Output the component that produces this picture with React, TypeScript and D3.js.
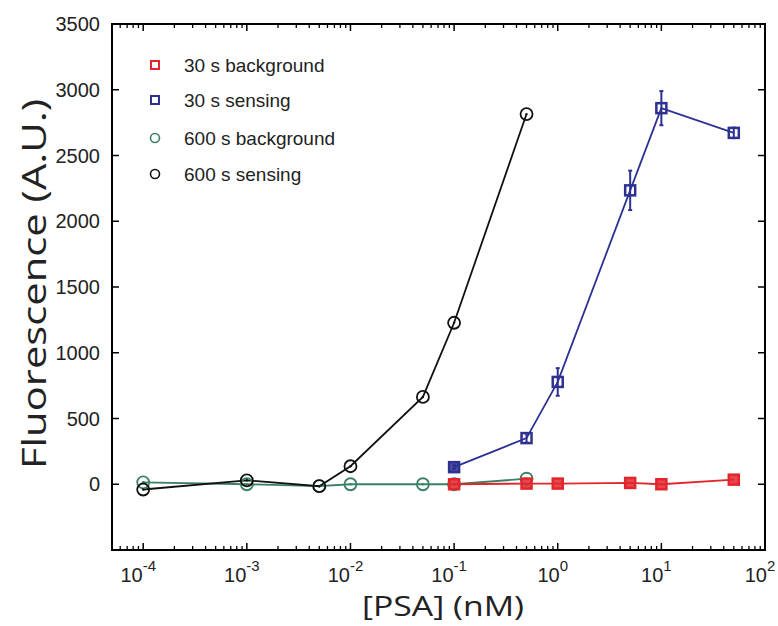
import React from "react";
import * as d3 from "d3";

const xs600 = [1e-4, 1e-3, 5e-3, 1e-2, 5e-2, 1e-1, 5e-1];
const sensing600 = [-40, 30, -15, 137, 664, 1228, 2815];
const background600 = [15, 0, -15, 0, 0, 0, 42];
const xs30 = [1e-1, 5e-1, 1, 5, 10, 50];
const background30 = [0, 5, 5, 10, 0, 35];
const sensing30 = [130, 351, 778, 2235, 2860, 2672];
const sensing30Err = [15, 35, 105, 150, 130, 40];
const yTicks = [0, 500, 1000, 1500, 2000, 2500, 3000, 3500];
const xExponents = [-4, -3, -2, -1, 0, 1, 2];
const legendLabels = ["30 s background", "30 s sensing", "600 s background", "600 s sensing"];

const RED = "#e3262d";
const BLUE = "#2e3192";
const GREEN = "#3b8063";
const BLACK = "#111111";

export default function App() {
  const left = 112, right = 765, top = 24, bottom = 550;
  const x = d3.scaleLog().domain([5e-5, 100]).range([left, right]);
  const y = d3.scaleLinear().domain([-500, 3500]).range([bottom, top]);
  const line = (xsArr: number[], ys: number[]) =>
    d3.line<number>().x((_, i) => x(xsArr[i])).y((v) => y(v))(ys) || "";

  const minorTicks: number[] = [];
  for (let e = -5; e <= 1; e++) {
    for (let m = 2; m <= 9; m++) {
      const v = m * Math.pow(10, e);
      if (v >= 5e-5 && v <= 100) minorTicks.push(v);
    }
  }
  const font = "'Liberation Sans', Arial, sans-serif";
  const titleFont = "'Open Sans', 'Noto Sans', sans-serif";

  const square = (cx: number, cy: number, color: string, key: string, filled = false) => (
    <rect key={key} x={cx - 5} y={cy - 5} width={10} height={10} fill={filled ? color : "white"} fillOpacity={filled ? 0.85 : 0} stroke={color} strokeWidth={2.5} />
  );
  const circle = (cx: number, cy: number, color: string, key: string) => (
    <g key={key}>
      <circle cx={cx} cy={cy} r={6} fill="none" stroke={color} strokeWidth={1.8} />
      <circle cx={cx} cy={cy} r={1.2} fill={color} />
    </g>
  );

  return (
    <svg width={778} height={626} style={{ position: "absolute", left: 0, top: 0, background: "white" }}>
      {/* lines */}
      <path d={line(xs600, background600)} fill="none" stroke={GREEN} strokeWidth={1.8} />
      <path d={line(xs600, sensing600)} fill="none" stroke={BLACK} strokeWidth={1.8} />
      <path d={line(xs30, background30)} fill="none" stroke={RED} strokeWidth={1.8} />
      <path d={line(xs30, sensing30)} fill="none" stroke={BLUE} strokeWidth={1.8} />
      {/* error bars */}
      {xs30.map((xv, i) => (
        <g key={"e" + i} stroke={BLUE} strokeWidth={2}>
          <line x1={x(xv)} x2={x(xv)} y1={y(sensing30[i] - sensing30Err[i])} y2={y(sensing30[i] + sensing30Err[i])} />
          <line x1={x(xv) - 2} x2={x(xv) + 2} y1={y(sensing30[i] - sensing30Err[i])} y2={y(sensing30[i] - sensing30Err[i])} />
          <line x1={x(xv) - 2} x2={x(xv) + 2} y1={y(sensing30[i] + sensing30Err[i])} y2={y(sensing30[i] + sensing30Err[i])} />
        </g>
      ))}
      {/* markers */}
      {xs600.map((xv, i) => circle(x(xv), y(background600[i]), GREEN, "gb" + i))}
      {xs600.map((xv, i) => circle(x(xv), y(sensing600[i]), BLACK, "bs" + i))}
      {xs30.map((xv, i) => square(x(xv), y(sensing30[i]), BLUE, "qs" + i, i === 0))}
      {xs30.map((xv, i) => square(x(xv), y(background30[i]), RED, "rb" + i, true))}

      {/* box */}
      <rect x={left} y={top} width={right - left} height={bottom - top} fill="none" stroke="#000" strokeWidth={2} />
      {/* y ticks */}
      {yTicks.map((t) => (
        <g key={"y" + t}>
          <line x1={left} x2={left + 7} y1={y(t)} y2={y(t)} stroke="#000" strokeWidth={1.5} />
          <line x1={right} x2={right - 7} y1={y(t)} y2={y(t)} stroke="#000" strokeWidth={1.5} />
          <text x={left - 12} y={y(t)} dy="0.35em" textAnchor="end" fontFamily={font} fontSize={20} fill="#222">{t}</text>
        </g>
      ))}
      {/* x ticks */}
      {xExponents.map((e) => {
        const xv = x(Math.pow(10, e));
        return (
          <g key={"x" + e}>
            <line x1={xv} x2={xv} y1={bottom} y2={bottom - 7} stroke="#000" strokeWidth={1.5} />
            <line x1={xv} x2={xv} y1={top} y2={top + 7} stroke="#000" strokeWidth={1.5} />
            <text x={xv - 5} y={bottom + 32} textAnchor="middle" fontFamily={font} fontSize={20} fill="#222">
              10<tspan dy={-11} fontSize={15}>{e}</tspan>
            </text>
          </g>
        );
      })}
      {minorTicks.map((v, i) => (
        <g key={"m" + i}>
          <line x1={x(v)} x2={x(v)} y1={bottom} y2={bottom - 4} stroke="#000" strokeWidth={1.3} />
          <line x1={x(v)} x2={x(v)} y1={top} y2={top + 4} stroke="#000" strokeWidth={1.3} />
        </g>
      ))}
      {/* axis titles */}
      <text x={443} y={616} textAnchor="middle" fontFamily={titleFont} fontSize={28} textLength={162} lengthAdjust="spacingAndGlyphs" fill="#222">[PSA] (nM)</text>
      <text transform="translate(46,284) rotate(-90)" textAnchor="middle" fontFamily={titleFont} fontSize={33} textLength={370} lengthAdjust="spacingAndGlyphs" fill="#222">Fluorescence (A.U.)</text>
      {/* legend */}
      {legendLabels.map((lab, i) => {
        const ly = [65, 100, 138, 174][i];
        const colors = [RED, BLUE, GREEN, BLACK];
        return (
          <g key={"l" + i}>
            {i < 2 ? (
              <rect x={151} y={ly - 4} width={8} height={8} fill="none" stroke={colors[i]} strokeWidth={2} />
            ) : (
              <circle cx={155} cy={ly} r={4.5} fill="none" stroke={colors[i]} strokeWidth={1.6} />
            )}
            <text x={184} y={ly} dy="0.35em" fontFamily={font} fontSize={19} fill="#222">{lab}</text>
          </g>
        );
      })}
    </svg>
  );
}
